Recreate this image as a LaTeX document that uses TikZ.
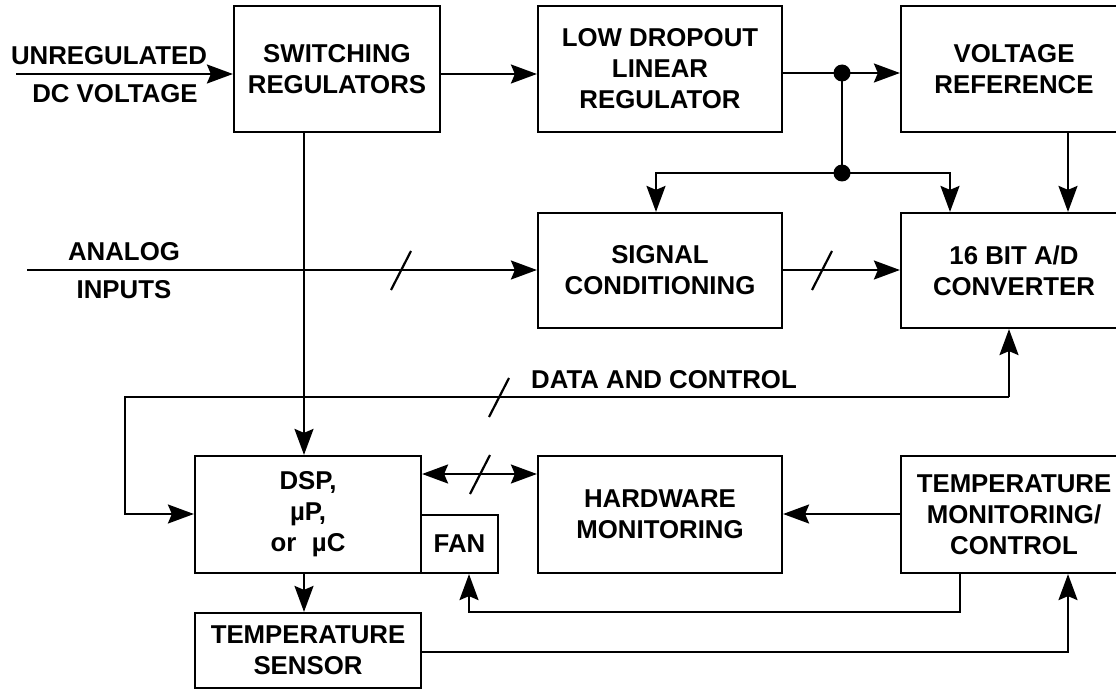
\documentclass[tikz,border=0pt]{standalone}
\usepackage{fontspec}
\setmainfont{Liberation Sans}
\usetikzlibrary{arrows.meta}
\begin{document}
\begin{tikzpicture}[x=1bp,y=-1bp,
  every node/.style={font=\bfseries\fontsize{25.8bp}{31bp}\selectfont, align=center, inner sep=0pt},
  blk/.style={draw, line width=2.2bp, rectangle},
  tip/.tip={Stealth[length=26bp,width=19bp,inset=4bp]},
  arr/.style={-tip},
  wire/.style={line width=2.2bp},
  jdot/.style={circle, fill, minimum size=17bp, inner sep=0pt},
  ]
\useasboundingbox (0,0) rectangle (1116,690);
\clip (0,0) rectangle (1116,690);
% blocks
\node[blk, minimum width=206bp, minimum height=126bp] (sw) at (337,69) {SWITCHING\\REGULATORS};
\node[blk, minimum width=244bp, minimum height=126bp] (ldo) at (660,69) {LOW DROPOUT\\LINEAR\\REGULATOR};
\node[blk, minimum width=226bp, minimum height=126bp] (vr) at (1014,69) {VOLTAGE\\REFERENCE};
\node[blk, minimum width=244bp, minimum height=115bp] (sc) at (660,270.5) {SIGNAL\\CONDITIONING};
\node[blk, minimum width=226bp, minimum height=115bp] (adc) at (1014,270.5) {16 BIT A/D\\CONVERTER};
\node[blk, minimum width=226bp, minimum height=117bp] (dsp) at (308,514.5) {DSP,\\µP,\\or\hspace{0.6em}µC};
\node[blk, minimum width=77bp, minimum height=58bp] (fan) at (459.5,544) {FAN};
\node[blk, minimum width=244bp, minimum height=117bp] (hw) at (660,514.5) {HARDWARE\\MONITORING};
\node[blk, minimum width=226bp, minimum height=117bp] (tmc) at (1014,514.5) {TEMPERATURE\\MONITORING/\\CONTROL};
\node[blk, minimum width=226bp, minimum height=75bp] (ts) at (308,650.5) {TEMPERATURE\\SENSOR};
% labels
\node (unreg) at (109,56) {UNREGULATED};
\node (dcv) at (115,94) {DC VOLTAGE};
\node (analog) at (124,252) {ANALOG};
\node (inputs) at (124,290) {INPUTS};
\node (dac) at (664,380) {DATA AND CONTROL};
% coordinates
\coordinate (inS) at (16,74);
\coordinate (y74) at (0,74);
\coordinate (j1) at (842,73);
\coordinate (j2) at (842,173);
\coordinate (bl) at (656,173);
\coordinate (br) at (950,173);
\coordinate (vrx) at (1068,0);
\coordinate (ain) at (27,270);
\coordinate (sx) at (304,0);
\coordinate (dl) at (125,397);
\coordinate (dr) at (1009,397);
\coordinate (dy) at (0,514);
\coordinate (hy) at (0,474);
\coordinate (f1) at (960,612);
\coordinate (f2) at (469,612);
\coordinate (t1) at (1068,652);
% connectors
\draw[wire,arr] (inS) -- (inS -| sw.west);
\draw[wire,arr] (sw.east |- y74) -- (ldo.west |- y74);
\draw[wire,arr] (ldo.east |- j1) -- (vr.west |- j1);
\draw[wire] (j1) -- (j2);
\draw[wire,arr] (j2) -- (bl) -- (bl |- sc.north);
\draw[wire,arr] (j2) -- (br) -- (br |- adc.north);
\node[jdot] (d1) at (j1) {};
\node[jdot] (d2) at (j2) {};
\draw[wire,arr] (vr.south -| vrx) -- (adc.north -| vrx);
\draw[wire,arr] (ain) -- (ain -| sc.west);
\draw[wire] (391,290) -- (411,251);
\draw[wire,arr] (sc.east |- ain) -- (adc.west |- ain);
\draw[wire] (812,290) -- (832,251);
\draw[wire,arr] (sw.south -| sx) -- (dsp.north -| sx);
\draw[wire,arr] (dr) -- (dl) -- (dl |- dy) -- (dsp.west |- dy);
\draw[wire,arr] (dr) -- (dr |- adc.south);
\draw[wire] (489,417) -- (509,378);
\draw[wire,tip-tip] (dsp.east |- hy) -- (hw.west |- hy);
\draw[wire] (470,494) -- (490,455);
\draw[wire,arr] (tmc.west |- dy) -- (hw.east |- dy);
\draw[wire,arr] (tmc.south -| f1) -- (f1) -- (f2) -- (fan.south -| f2);
\draw[wire,arr] (dsp.south -| sx) -- (ts.north -| sx);
\draw[wire,arr] (ts.east |- t1) -- (t1) -- (tmc.south -| t1);
\end{tikzpicture}
\end{document}
